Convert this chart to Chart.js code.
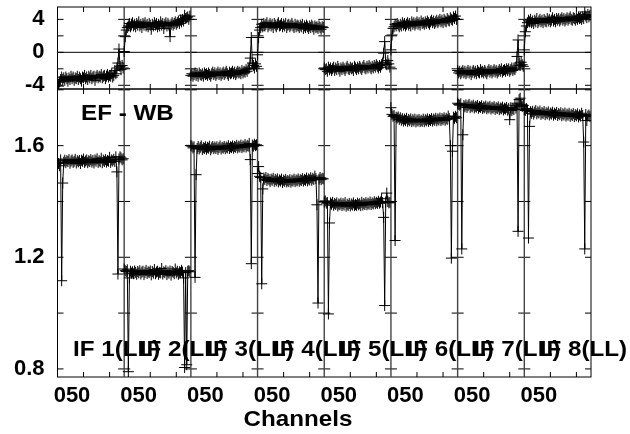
<!DOCTYPE html>
<html>
<head>
<meta charset="utf-8">
<script src="https://cdn.jsdelivr.net/npm/chart.js@4.4.1/dist/chart.umd.min.js"></script>
<style>
  html, body { margin: 0; padding: 0; background: #fff; }
  #wrap { width: 630px; height: 434px; }
</style>
</head>
<body>
<div id="wrap"><canvas id="bp" width="630" height="434"></canvas></div>
<script>
const channelsPerIF = 64;
const ifNames = ['IF 1(LL)', 'IF 2(LL)', 'IF 3(LL)', 'IF 4(LL)', 'IF 5(LL)', 'IF 6(LL)', 'IF 7(LL)', 'IF 8(LL)'];
const channelTickLabels = ['050', '050', '050', '050', '050', '050', '050', '050'];
const channelMarks = [25, 50];
const phaseMarks = [-4, -2, 0, 2, 4];
const phaseLabels = [-4, 0, 4];
const ampMarks = [0.8, 1.0, 1.2, 1.4, 1.6, 1.8];
const ampLabels = [0.8, 1.2, 1.6];
const baselineName = 'EF - WB';

// amplitude, one array per IF (64 channels)
const ampIF1 = [
  1.552, 1.536, 1.528, 1.549, 1.116, 1.466, 1.541, 1.548,
  1.539, 1.546, 1.543, 1.550, 1.537, 1.545, 1.549, 1.540,
  1.544, 1.551, 1.538, 1.546, 1.542, 1.547, 1.536, 1.548,
  1.544, 1.552, 1.540, 1.545, 1.549, 1.539, 1.546, 1.543,
  1.550, 1.541, 1.547, 1.538, 1.549, 1.544, 1.553, 1.540,
  1.546, 1.542, 1.555, 1.539, 1.548, 1.543, 1.550, 1.541,
  1.547, 1.544, 1.558, 1.540, 1.549, 1.545, 1.551, 1.543,
  1.560, 1.506, 1.140, 1.552, 1.560, 1.556, 1.549, 1.553
];
const ampIF2 = [
  1.158, 1.152, 1.149, 1.155, 0.790, 1.126, 1.150, 1.143,
  1.148, 1.141, 1.151, 1.146, 1.139, 1.149, 1.144, 1.152,
  1.140, 1.147, 1.150, 1.138, 1.146, 1.153, 1.142, 1.148,
  1.145, 1.151, 1.137, 1.149, 1.143, 1.156, 1.141, 1.147,
  1.150, 1.139, 1.146, 1.144, 1.160, 1.140, 1.148, 1.145,
  1.152, 1.138, 1.147, 1.143, 1.151, 1.136, 1.149, 1.146,
  1.141, 1.158, 1.144, 1.150, 1.139, 1.148, 1.145, 1.153,
  1.147, 1.126, 0.805, 1.145, 0.815, 1.150, 1.152, 1.148
];
const ampIF3 = [
  1.601, 1.598, 1.592, 1.596, 1.128, 1.496, 1.590, 1.597,
  1.588, 1.594, 1.599, 1.586, 1.593, 1.590, 1.596, 1.587,
  1.594, 1.591, 1.598, 1.585, 1.592, 1.597, 1.589, 1.595,
  1.590, 1.596, 1.587, 1.593, 1.599, 1.588, 1.594, 1.591,
  1.597, 1.589, 1.595, 1.592, 1.600, 1.590, 1.596, 1.593,
  1.599, 1.591, 1.597, 1.594, 1.601, 1.592, 1.598, 1.595,
  1.602, 1.593, 1.599, 1.596, 1.604, 1.595, 1.601, 1.598,
  1.608, 1.550, 1.177, 1.602, 1.598, 1.605, 1.600, 1.603
];
const ampIF4 = [
  1.500, 1.525, 1.490, 1.486, 1.105, 1.445, 1.484, 1.479,
  1.486, 1.475, 1.482, 1.478, 1.471, 1.480, 1.476, 1.483,
  1.472, 1.479, 1.474, 1.481, 1.470, 1.477, 1.473, 1.480,
  1.468, 1.476, 1.472, 1.479, 1.470, 1.475, 1.471, 1.478,
  1.469, 1.476, 1.473, 1.480, 1.471, 1.477, 1.474, 1.481,
  1.472, 1.478, 1.475, 1.482, 1.473, 1.479, 1.476, 1.484,
  1.474, 1.481, 1.477, 1.485, 1.476, 1.483, 1.479, 1.491,
  1.482, 1.388, 1.036, 1.480, 1.486, 1.478, 1.483, 1.481
];
const ampIF5 = [
  1.398, 1.402, 1.394, 1.396, 0.997, 1.323, 1.395, 1.390,
  1.397, 1.386, 1.393, 1.389, 1.395, 1.384, 1.391, 1.388,
  1.394, 1.385, 1.392, 1.387, 1.396, 1.383, 1.390, 1.386,
  1.393, 1.384, 1.391, 1.387, 1.395, 1.385, 1.389, 1.386,
  1.394, 1.388, 1.392, 1.385, 1.397, 1.387, 1.393, 1.389,
  1.396, 1.388, 1.394, 1.390, 1.398, 1.389, 1.395, 1.391,
  1.399, 1.392, 1.397, 1.393, 1.401, 1.394, 1.398, 1.410,
  1.396, 1.343, 1.027, 1.398, 1.430, 1.400, 1.395, 1.397
];
const ampIF6 = [
  1.736, 1.712, 1.705, 1.708, 1.260, 1.702, 1.699, 1.703,
  1.694, 1.700, 1.691, 1.697, 1.688, 1.695, 1.690, 1.698,
  1.687, 1.694, 1.689, 1.696, 1.686, 1.693, 1.688, 1.695,
  1.685, 1.692, 1.688, 1.694, 1.686, 1.691, 1.687, 1.695,
  1.686, 1.693, 1.689, 1.696, 1.687, 1.694, 1.690, 1.697,
  1.688, 1.695, 1.691, 1.698, 1.689, 1.696, 1.692, 1.699,
  1.690, 1.697, 1.693, 1.700, 1.691, 1.698, 1.694, 1.706,
  1.697, 1.600, 1.197, 1.580, 1.702, 1.698, 1.705, 1.700
];
const ampIF7 = [
  1.752, 1.748, 1.745, 1.750, 1.230, 1.639, 1.744, 1.739,
  1.746, 1.737, 1.743, 1.748, 1.736, 1.742, 1.739, 1.745,
  1.735, 1.741, 1.738, 1.744, 1.734, 1.740, 1.737, 1.743,
  1.733, 1.739, 1.736, 1.742, 1.732, 1.738, 1.735, 1.741,
  1.731, 1.737, 1.734, 1.740, 1.730, 1.736, 1.733, 1.739,
  1.729, 1.735, 1.732, 1.738, 1.728, 1.734, 1.731, 1.737,
  1.727, 1.733, 1.693, 1.736, 1.726, 1.732, 1.729, 1.745,
  1.735, 1.752, 1.293, 1.765, 1.770, 1.748, 1.740, 1.744
];
const ampIF8 = [
  1.730, 1.726, 1.733, 1.728, 1.269, 1.669, 1.722, 1.716,
  1.723, 1.713, 1.720, 1.726, 1.714, 1.721, 1.717, 1.724,
  1.712, 1.719, 1.715, 1.722, 1.711, 1.718, 1.714, 1.721,
  1.710, 1.717, 1.713, 1.720, 1.709, 1.716, 1.712, 1.719,
  1.708, 1.715, 1.711, 1.718, 1.707, 1.714, 1.710, 1.717,
  1.706, 1.713, 1.709, 1.716, 1.705, 1.712, 1.708, 1.715,
  1.704, 1.711, 1.707, 1.714, 1.703, 1.710, 1.706, 1.716,
  1.708, 1.613, 1.230, 1.712, 1.690, 1.706, 1.710, 1.704
];

// phase, one array per IF (64 channels)
const phaseIF1 = [
  -3.4, -4.1, -3.6, -3.3, -3.0, -3.3, -3.1, -3.4,
  -3.0, -3.2, -3.5, -3.1, -3.3, -2.9, -3.2, -3.0,
  -3.4, -3.1, -3.2, -2.9, -3.3, -3.0, -3.2, -3.5,
  -3.0, -3.1, -2.8, -3.2, -3.0, -3.3, -2.9, -3.1,
  -2.8, -3.2, -3.0, -2.9, -3.4, -3.0, -2.8, -3.1,
  -2.9, -3.0, -2.7, -3.1, -2.9, -2.8, -3.2, -2.9,
  -2.7, -3.0, -2.8, -2.9, -2.6, -3.0, -2.8, -2.2,
  -2.6, -1.9, -1.3, 0.4, -1.7, -2.1, -1.6, -1.9
];
const phaseIF2 = [
  0.1, 1.9, 2.7, 3.0, 3.2, 3.5, 3.1, 3.4,
  3.6, 3.2, 3.4, 3.1, 3.5, 3.3, 3.7, 3.2,
  3.4, 3.0, 3.5, 3.3, 3.6, 3.2, 3.4, 3.1,
  3.5, 3.3, 2.8, 3.4, 3.2, 3.6, 3.3, 3.5,
  3.1, 3.4, 3.2, 3.7, 3.3, 3.5, 2.9, 3.4,
  3.6, 3.2, 3.5, 3.3, 1.9, 3.4, 3.6, 3.3,
  3.5, 3.7, 3.4, 3.6, 3.8, 3.5, 3.9, 3.7,
  4.0, 3.8, 4.5, 4.1, 4.2, 4.3, 4.0, 4.4
];
const phaseIF3 = [
  -2.8, -2.6, -2.9, -2.7, -2.5, -2.8, -2.6, -2.9,
  -2.5, -2.7, -2.8, -2.6, -2.9, -2.5, -2.7, -2.6,
  -2.8, -2.5, -2.7, -2.9, -2.6, -2.4, -2.7, -2.5,
  -2.8, -2.6, -2.4, -2.7, -2.5, -2.8, -2.6, -2.4,
  -2.7, -2.5, -2.3, -2.6, -2.8, -2.4, -2.6, -2.5,
  -2.3, -2.6, -2.4, -2.7, -2.5, -2.3, -2.5, -2.4,
  -2.6, -2.2, -2.5, -2.3, -2.4, -2.1, -2.3, -2.0,
  -1.9, -0.7, 1.8, -1.3, -1.6, -1.9, -1.4, -1.7
];
const phaseIF4 = [
  -0.3, 1.8, 2.7, 3.0, 3.4, 3.1, 3.5, 3.2,
  3.4, 3.6, 3.1, 3.3, 3.5, 3.2, 3.4, 3.0,
  3.5, 3.3, 3.1, 3.4, 3.6, 3.2, 3.3, 3.5,
  3.1, 3.4, 3.2, 3.5, 3.0, 3.3, 3.4, 3.1,
  3.3, 3.5, 3.2, 3.0, 3.4, 3.1, 3.3, 3.2,
  3.0, 3.3, 3.1, 3.4, 2.9, 3.2, 3.0, 3.3,
  3.1, 2.9, 3.2, 3.0, 3.3, 3.1, 2.8, 3.2,
  3.0, 3.1, 2.9, 3.2, 3.0, 2.8, 3.1, 3.0
];
const phaseIF5 = [
  -1.9, -2.1, -2.0, -2.3, -1.8, -2.1, -1.9, -2.2,
  -2.0, -1.8, -2.2, -1.9, -2.1, -1.7, -2.0, -2.3,
  -1.9, -2.1, -1.8, -2.0, -2.2, -1.9, -1.7, -2.0,
  -2.1, -1.8, -2.0, -1.9, -2.2, -1.7, -1.9, -2.1,
  -1.8, -2.0, -1.7, -1.9, -2.1, -1.8, -1.6, -1.9,
  -2.0, -1.7, -1.9, -1.6, -1.8, -2.0, -1.7, -1.9,
  -1.6, -1.8, -1.5, -1.7, -1.9, -1.6, -1.8, -1.5,
  -1.3, -0.1, 1.3, -1.2, -1.5, -1.0, -1.4, -1.8
];
const phaseIF6 = [
  0.3, 2.1, 2.9, 3.1, 3.4, 3.2, 3.5, 3.3,
  3.1, 3.4, 3.2, 3.6, 3.3, 3.5, 3.2, 3.4,
  3.6, 3.3, 3.5, 3.2, 3.7, 3.4, 3.6, 3.3,
  3.5, 3.7, 3.4, 3.6, 3.3, 3.8, 3.5, 3.6,
  3.4, 3.7, 3.5, 3.8, 3.6, 3.4, 3.7, 3.9,
  3.6, 3.8, 3.5, 3.7, 3.9, 3.6, 3.8, 4.0,
  3.7, 3.9, 3.6, 4.0, 3.8, 3.7, 4.1, 3.9,
  3.8, 4.2, 4.0, 3.9, 4.3, 4.1, 4.4, 4.0
];
const phaseIF7 = [
  -2.2, -2.5, -2.3, -2.6, -2.4, -2.2, -2.5, -2.3,
  -2.6, -2.4, -2.2, -2.5, -2.3, -2.7, -2.4, -2.2,
  -2.5, -2.3, -2.6, -2.2, -2.4, -2.5, -2.1, -2.4,
  -2.3, -2.5, -2.2, -2.4, -2.6, -2.3, -2.1, -2.4,
  -2.2, -2.5, -2.3, -2.1, -2.4, -2.2, -2.5, -2.3,
  -2.1, -2.3, -2.0, -2.4, -2.2, -2.1, -2.3, -2.0,
  -2.2, -2.0, -2.3, -2.1, -1.9, -2.2, -2.0, -2.1,
  -1.8, -0.5, 1.5, -1.3, -1.6, -1.2, -1.5, -1.7
];
const phaseIF8 = [
  0.3, 2.5, 3.2, 3.6, 3.9, 3.7, 4.0, 3.6,
  3.8, 3.5, 3.9, 3.7, 4.1, 3.6, 3.8, 4.0,
  3.7, 3.9, 3.6, 4.0, 3.8, 3.7, 4.1, 3.8,
  4.0, 3.7, 3.9, 4.2, 3.8, 4.0, 3.7, 4.1,
  3.9, 4.1, 3.8, 4.0, 4.2, 3.9, 4.1, 3.8,
  4.0, 4.2, 3.9, 4.1, 4.3, 4.0, 3.9, 4.2,
  4.1, 3.9, 4.2, 4.0, 4.3, 4.1, 4.2, 4.0,
  4.3, 4.1, 4.9, 4.4, 4.2, 4.6, 4.3, 4.5
];

const ampSeries = [ampIF1, ampIF2, ampIF3, ampIF4, ampIF5, ampIF6, ampIF7, ampIF8];
const phaseSeries = [phaseIF1, phaseIF2, phaseIF3, phaseIF4, phaseIF5, phaseIF6, phaseIF7, phaseIF8];

const FONT = '"Liberation Sans", Arial, Helvetica, sans-serif';
const ifStarts = ifNames.map((n, k) => k * channelsPerIF);
const ifBounds = ifStarts.concat([ifNames.length * channelsPerIF]);

function toPoints(values, k) {
    return values.map((v, i) => ({ x: k * channelsPerIF + i, y: v }));
}

function traceStyle(axis) {
    return {
        yAxisID: axis,
        borderColor: '#000',
        borderWidth: 1,
        pointStyle: 'cross',
        pointRadius: 5.5,
        pointBorderWidth: 1,
        pointBorderColor: '#000',
        pointBackgroundColor: '#000',
        fill: false,
        tension: 0
    };
}

const datasets = [];
phaseSeries.forEach((vals, k) => datasets.push(Object.assign({ label: ifNames[k] + ' phase', data: toPoints(vals, k) }, traceStyle('yPh'))));
ampSeries.forEach((vals, k) => datasets.push(Object.assign({ label: ifNames[k] + ' amp', data: toPoints(vals, k) }, traceStyle('yAmp'))));

// no extra room for the end tick labels, the plot box is set by hand
function fitY(scale) {
    scale.width = 57.5;
    scale.paddingTop = 0;
    scale.paddingBottom = 0;
}

// frames, IF dividers, tick marks and text labels
const panelFrame = {
    id: 'panelFrame',
    beforeDatasetsDraw(chart) {
        const ctx = chart.ctx;
        const xs = chart.scales.x;
        const area = chart.chartArea;
        const yPh = chart.scales.yPh;
        const panels = [yPh, chart.scales.yAmp];
        ctx.save();
        ctx.strokeStyle = '#000';
        ctx.lineWidth = 1;
        // zero phase line
        const y0 = yPh.getPixelForValue(0);
        ctx.beginPath();
        ctx.moveTo(area.left, y0);
        ctx.lineTo(area.right, y0);
        ctx.stroke();
        panels.forEach(ys => {
            ctx.strokeRect(area.left, ys.top, area.right - area.left, ys.bottom - ys.top);
            ifBounds.forEach(b => {
                const px = xs.getPixelForValue(b);
                ys.ticks.forEach(t => {
                    const py = ys.getPixelForValue(t.value);
                    ctx.beginPath();
                    ctx.moveTo(Math.max(area.left, px - 6), py);
                    ctx.lineTo(Math.min(area.right, px + 6), py);
                    ctx.stroke();
                });
            });
            ifStarts.forEach(s => {
                channelMarks.forEach(c => {
                    const px = xs.getPixelForValue(s + c);
                    ctx.beginPath();
                    ctx.moveTo(px, ys.top);
                    ctx.lineTo(px, ys.top + 5);
                    ctx.moveTo(px, ys.bottom);
                    ctx.lineTo(px, ys.bottom - 5);
                    ctx.stroke();
                });
            });
        });
        ctx.strokeStyle = '#444';
        ctx.lineWidth = 1.4;
        ifBounds.slice(1, -1).forEach(b => {
            const px = xs.getPixelForValue(b);
            ctx.beginPath();
            ctx.moveTo(px, area.top);
            ctx.lineTo(px, area.bottom);
            ctx.stroke();
        });
        ctx.restore();
    },
    afterDatasetsDraw(chart) {
        const ctx = chart.ctx;
        const xs = chart.scales.x;
        ctx.save();
        ctx.fillStyle = '#000';
        ctx.font = 'bold 22px ' + FONT;
        ctx.textBaseline = 'middle';
        const stretched = (text, x, y, align) => {
            ctx.save();
            ctx.translate(x, y);
            ctx.scale(1.1, 1);
            ctx.textAlign = align;
            ctx.fillText(text, 0, 0);
            ctx.restore();
        };
        stretched(baselineName, 81, 114, 'left');
        ifNames.forEach((name, k) => {
            stretched(name, xs.getPixelForValue(ifStarts[k]) + 15.5, 350, 'left');
        });
        stretched('Channels', 298, 420, 'center');
        ctx.restore();
    }
};

new Chart(document.getElementById('bp'), {
    type: 'line',
    data: { datasets: datasets },
    options: {
        responsive: false,
        animation: false,
        layout: { padding: { top: 7, right: 39, left: 0, bottom: 0 } },
        plugins: {
            legend: { display: false },
            tooltip: { enabled: false },
            title: { display: false }
        },
        scales: {
            x: {
                type: 'linear',
                min: 0,
                max: ifNames.length * channelsPerIF,
                grid: { display: false },
                border: { display: false },
                afterBuildTicks: scale => { scale.ticks = ifStarts.map(v => ({ value: v })); },
                afterFit: scale => {
                    scale.height = 57;
                    scale.paddingLeft = 0;
                    scale.paddingRight = 0;
                },
                ticks: {
                    autoSkip: false,
                    maxRotation: 0,
                    labelOffset: 14.5,
                    padding: -2,
                    color: '#000',
                    font: { family: FONT, size: 22, weight: 'bold' },
                    callback: (v, i) => channelTickLabels[i]
                }
            },
            yAmp: {
                type: 'linear',
                position: 'left',
                stack: 'panels',
                stackWeight: 288,
                min: 0.771,
                max: 1.803,
                afterBuildTicks: scale => { scale.ticks = ampMarks.map(v => ({ value: v })); },
                afterFit: fitY,
                grid: { display: false, drawTicks: false },
                border: { display: false },
                ticks: {
                    autoSkip: false,
                    padding: 13,
                    color: '#000',
                    font: { family: FONT, size: 22, weight: 'bold' },
                    callback: v => (ampLabels.some(a => Math.abs(a - v) < 1e-6) ? v.toFixed(1) : '')
                }
            },
            yPh: {
                type: 'linear',
                position: 'left',
                stack: 'panels',
                stackWeight: 82,
                min: -4.45,
                max: 5.5,
                afterBuildTicks: scale => { scale.ticks = phaseMarks.map(v => ({ value: v })); },
                afterFit: fitY,
                grid: { display: false, drawTicks: false },
                border: { display: false },
                ticks: {
                    autoSkip: false,
                    padding: 13,
                    color: '#000',
                    font: { family: FONT, size: 22, weight: 'bold' },
                    callback: v => (phaseLabels.includes(v) ? String(v) : '')
                }
            }
        }
    },
    plugins: [panelFrame]
});
</script>
</body>
</html>
